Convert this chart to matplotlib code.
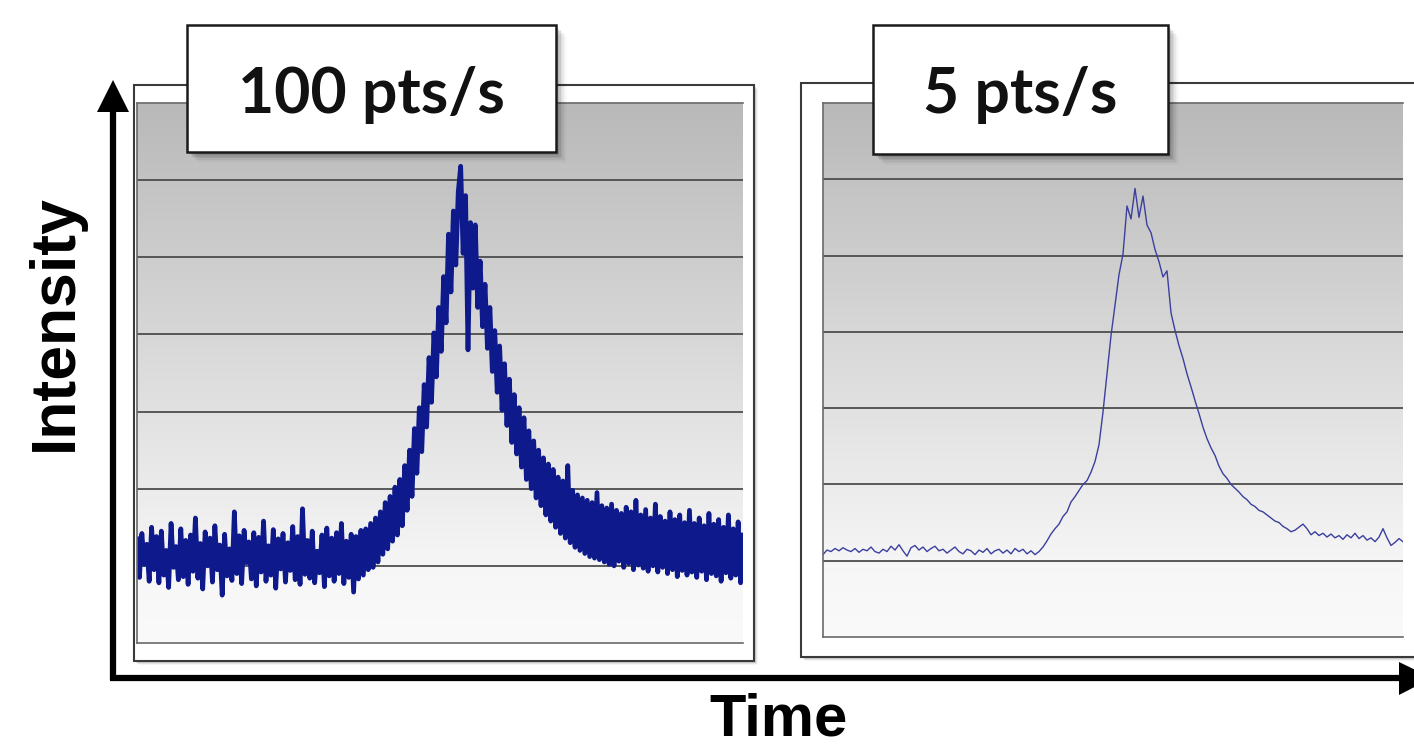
import numpy as np
import matplotlib
matplotlib.use("Agg")
import matplotlib.pyplot as plt
from matplotlib.patches import Rectangle, Polygon
from matplotlib.colors import LinearSegmentedColormap

# ---- data (intensity in grid units) ----
fast_label = "100 pts/s"
slow_label = "5 pts/s"
x_label = "Time"
y_label = "Intensity"

fast_signal = [
    1.35, 0.85, 1.42, 1.02, 1.28, 0.80, 1.50, 0.95, 1.38, 0.78,
    1.45, 0.88, 1.20, 0.72, 1.55, 0.98, 1.25, 0.82, 1.48, 0.86,
    1.33, 0.76, 1.40, 0.93, 1.62, 0.84, 1.29, 0.70, 1.44, 1.00,
    1.36, 0.79, 1.52, 0.95, 1.27, 0.62, 1.41, 0.87, 1.22, 0.81,
    1.70, 0.90, 1.39, 0.77, 1.46, 1.04, 1.31, 0.83, 1.43, 0.74,
    1.37, 0.92, 1.58, 0.80, 1.26, 0.88, 1.47, 0.71, 1.35, 0.96,
    1.42, 0.79, 1.30, 0.94, 1.51, 0.82, 1.38, 0.76, 1.74, 0.89,
    1.33, 0.84, 1.45, 0.78, 1.19, 0.91, 1.40, 0.73, 1.49, 0.87,
    1.36, 0.80, 1.43, 0.90, 1.55, 0.77, 1.32, 0.85, 1.41, 0.66,
    1.38, 0.83, 1.46, 0.88,
    1.48, 0.95, 1.55, 0.98, 1.62, 1.05, 1.70, 1.15, 1.82, 1.22,
    1.90, 1.32, 2.02, 1.40, 2.12, 1.52, 2.30, 1.72, 2.50, 1.90,
    2.78, 2.20, 3.05, 2.48, 3.35, 2.80, 3.70, 3.12, 4.02, 3.45,
    4.35, 3.78, 4.75, 4.15, 5.30, 4.55, 5.60, 4.90, 5.85, 6.18,
    5.05, 5.80, 3.80, 5.45, 4.60, 5.42, 4.35, 4.95, 4.10, 4.65,
    3.82, 4.35, 3.52, 4.05, 3.25, 3.85, 3.02, 3.62, 2.82, 3.42,
    2.60, 3.22, 2.45, 3.05, 2.28, 2.92, 2.12, 2.75, 2.00, 2.62,
    1.88, 2.50, 1.78, 2.40, 1.66, 2.32, 1.58, 2.25, 1.50, 2.15,
    1.42, 2.10, 1.36, 2.30, 1.30, 1.98, 1.24, 1.92, 1.20, 1.88,
    1.16, 1.85, 1.12, 1.82, 1.10, 1.95, 1.08,
    1.78, 1.05, 1.75, 1.02, 1.80, 1.00, 1.72, 1.06, 1.68, 0.98,
    1.76, 1.03, 1.70, 0.95, 1.85, 1.01, 1.66, 0.97, 1.73, 0.93,
    1.62, 1.00, 1.80, 0.92, 1.64, 0.98, 1.58, 0.90, 1.70, 0.95,
    1.60, 0.86, 1.66, 0.94, 1.56, 0.88, 1.72, 0.92, 1.55, 0.85,
    1.62, 0.93, 1.52, 0.82, 1.68, 0.90, 1.54, 0.87, 1.60, 0.80,
    1.50, 0.91, 1.66, 0.84, 1.48, 0.88, 1.57, 0.78, 1.40,
]

slow_signal = [
    1.08, 1.14, 1.12, 1.16, 1.13, 1.17, 1.14, 1.12, 1.16, 1.11,
    1.15, 1.13, 1.18, 1.12, 1.10, 1.15, 1.12, 1.19, 1.14, 1.21,
    1.13, 1.06, 1.17, 1.20, 1.14, 1.18, 1.12, 1.16, 1.19, 1.13,
    1.15, 1.10, 1.14, 1.18, 1.12, 1.09, 1.15, 1.13, 1.08, 1.14,
    1.11, 1.16, 1.09, 1.13, 1.15, 1.10, 1.14, 1.09, 1.16, 1.12,
    1.15, 1.09, 1.13, 1.08, 1.12,
    1.18, 1.26, 1.35, 1.42, 1.48, 1.58, 1.64, 1.77, 1.84, 1.92,
    2.00, 2.05, 2.16, 2.30, 2.52, 2.95, 3.45, 3.95, 4.35, 4.75,
    5.02, 5.65, 5.48, 5.88, 5.50, 5.78, 5.40, 5.30, 5.08, 4.92,
    4.72, 4.80, 4.25, 4.02, 3.82, 3.65, 3.45, 3.28, 3.10, 2.93,
    2.75, 2.60, 2.48, 2.38, 2.24, 2.14, 2.08, 2.00, 1.95, 1.90,
    1.84, 1.80, 1.74, 1.71, 1.66, 1.64, 1.60, 1.56, 1.52, 1.50,
    1.45, 1.42, 1.38, 1.40, 1.44, 1.48, 1.42, 1.34, 1.38, 1.33,
    1.36, 1.31, 1.35, 1.30, 1.33, 1.28, 1.34, 1.30, 1.36, 1.29,
    1.33, 1.27, 1.30, 1.25, 1.31, 1.42, 1.30, 1.20, 1.24, 1.29,
    1.25,
]

grid_levels = [1, 2, 3, 4, 5, 6]

W, H = 1414, 749
fig = plt.figure(figsize=(W / 100, H / 100), dpi=100)
fig.patch.set_facecolor("white")


def px_rect(x0, y0, x1, y1):
    return [x0 / W, 1 - y1 / H, (x1 - x0) / W, (y1 - y0) / H]


# background layer for outer frames
bg = fig.add_axes([0, 0, 1, 1])
bg.set_xlim(0, W)
bg.set_ylim(H, 0)
bg.axis("off")
bg.set_zorder(0)

for (x0, y0, x1, y1) in [(134, 85, 754, 661), (801, 83, 1440, 657)]:
    for k, a in enumerate([0.10, 0.07, 0.04]):
        bg.add_patch(Rectangle((x0 + 2 + k, y0 + 2 + k), x1 - x0, y1 - y0,
                               facecolor="black", alpha=a, lw=0))
    bg.add_patch(Rectangle((x0, y0), x1 - x0, y1 - y0, facecolor="white",
                           edgecolor="#3a3a3a", lw=1.5))

grad_cmap = LinearSegmentedColormap.from_list(
    "bggrad", [(0, "#fafafa"), (0.12, "#f7f7f7"), (1, "#b9b9b9")])


def make_panel(rect_px, values, color, lw):
    ax = fig.add_axes(px_rect(*rect_px))
    ax.set_zorder(1)
    n = len(values)
    ax.set_xlim(0, n - 1)
    ax.set_ylim(0, 7)
    grad = np.linspace(0, 1, 256).reshape(-1, 1)
    ax.imshow(grad, cmap=grad_cmap, origin="lower", aspect="auto",
              extent=[0, n - 1, 0, 7], zorder=0)
    for g in grid_levels:
        ax.axhline(g, color="#4d4d4d", lw=1.3, zorder=1)
    ax.plot(np.arange(n), values, color=color, lw=lw, zorder=2,
            solid_joinstyle="round")
    ax.set_xticks([])
    ax.set_yticks([])
    for s in ax.spines.values():
        s.set_color("#6a6a6a")
        s.set_linewidth(1.2)
    ax.spines["right"].set_visible(False)
    return ax


ax_fast = make_panel((137, 103, 743, 643), fast_signal, "#0e1a8c", 3.4)
ax_slow = make_panel((823, 103, 1403, 637), slow_signal, "#3b3f9e", 1.0)

# top layer: label boxes, axis arrows, axis titles
top = fig.add_axes([0, 0, 1, 1])
top.set_xlim(0, W)
top.set_ylim(H, 0)
top.axis("off")
top.set_zorder(2)

for (x0, y0, x1, y1, txt) in [(187, 25, 556, 152, fast_label),
                              (873, 25, 1168, 154, slow_label)]:
    for k, a in enumerate([0.10, 0.08, 0.06, 0.04, 0.03, 0.02]):
        top.add_patch(Rectangle((x0 + 3 + k * 1.5, y0 + 3 + k * 1.5),
                                x1 - x0, y1 - y0, facecolor="black",
                                alpha=a, lw=0))
    top.add_patch(Rectangle((x0, y0), x1 - x0, y1 - y0, facecolor="white",
                            edgecolor="#1a1a1a", lw=1.8))
    top.text((x0 + x1) / 2, 113, txt, ha="center", va="baseline",
             fontsize=45, family="Lato", fontweight="bold", color="#111111")

# axis arrows
top.plot([113, 113], [680, 105], color="black", lw=4.5, solid_capstyle="butt")
top.add_patch(Polygon([(97, 112), (129, 112), (113, 80)], closed=True,
                      facecolor="black", edgecolor="none"))
top.plot([110, 1402], [678, 678], color="black", lw=4.5, solid_capstyle="butt")
top.add_patch(Polygon([(1399, 662), (1399, 695), (1432, 678)], closed=True,
                      facecolor="black", edgecolor="none"))

top.text(779, 736, x_label, ha="center", va="baseline", fontsize=43,
         family="Liberation Sans", fontweight="bold")
top.text(85, 323, y_label, ha="right", va="center", rotation=90, fontsize=45,
         family="Liberation Sans", fontweight="bold")

fig.savefig("out.png", dpi=100)
